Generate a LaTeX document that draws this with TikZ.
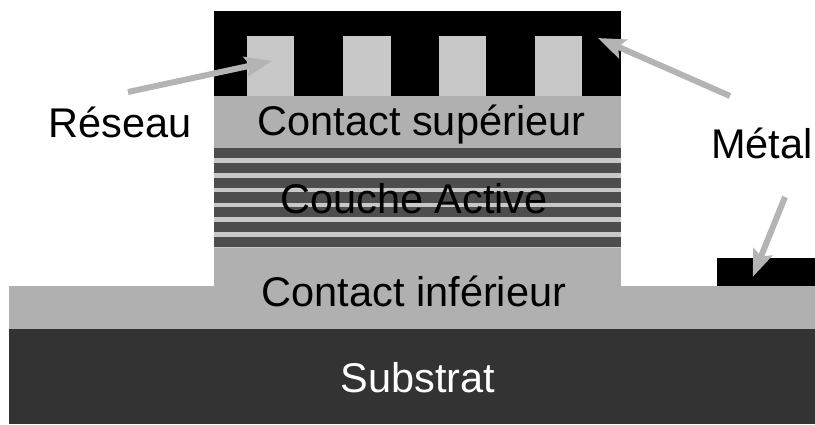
\documentclass[tikz,border=0pt]{standalone}
\usepackage{fontspec}
\setmainfont{Liberation Sans}
\usetikzlibrary{arrows.meta}
\definecolor{layer}{HTML}{B0B0B0}
\definecolor{grate}{HTML}{C8C8C8}
\definecolor{well}{HTML}{4D4D4D}
\definecolor{subs}{HTML}{333333}
\definecolor{arrowgray}{HTML}{B4B4B4}
\tikzset{
  lbl/.style={inner sep=0pt,font=\fontsize{41.5}{41.5}\selectfont,text=black,anchor=base},
  pointer/.style={draw=arrowgray,line width=6pt,-{Stealth[length=27pt,width=20pt,inset=5pt]},shorten >=0pt},
}
\begin{document}
\begin{tikzpicture}[x=1pt,y=-1pt]
\useasboundingbox (0,0) rectangle (815,424);
\fill[white] (0,0) rectangle (815,424);
% substrate and lower contact
\fill[subs] (9,329) rectangle (815,424);
\fill[layer] (9,286) rectangle (815,329);
\fill[layer] (213.5,248) rectangle (621,286);
% active region
\fill[grate] (213.5,148) rectangle (621,248);
\foreach \i in {0,...,6} \fill[well] (213.5,148+14.75*\i) rectangle (621,158.4+14.75*\i);
% upper contact
\fill[layer] (213.5,96) rectangle (621,148);
% metal and grating
\fill[black] (213.5,11) rectangle (621,96);
\foreach \a/\b in {246.5/293.5,343/390.5,439/486,535/582} \fill[grate] (\a,36) rectangle (\b,96);
\fill[black] (717,257.5) rectangle (815,286);
% labels
\node[lbl] (sup) at (421.5,135) {Contact supérieur};
\node[lbl] (act) at (414,213) {Couche Active};
\node[lbl] (inf) at (414,306) {Contact inférieur};
\node[lbl,text=white] (sub) at (418,392) {Substrat};
\node[lbl] (res) at (120,137) {Réseau};
\node[lbl] (met) at (762,158) {Métal};
% pointers
\coordinate (a1) at (128,92);
\coordinate (a1e) at (272,61);
\coordinate (a2) at (730,96);
\coordinate (a2e) at (598,38);
\coordinate (a3) at (785,197);
\coordinate (a3e) at (752.7,277);
\draw[pointer] (a1) -- (a1e);
\draw[pointer] (a2) -- (a2e);
\draw[pointer] (a3) -- (a3e);
\end{tikzpicture}
\end{document}
